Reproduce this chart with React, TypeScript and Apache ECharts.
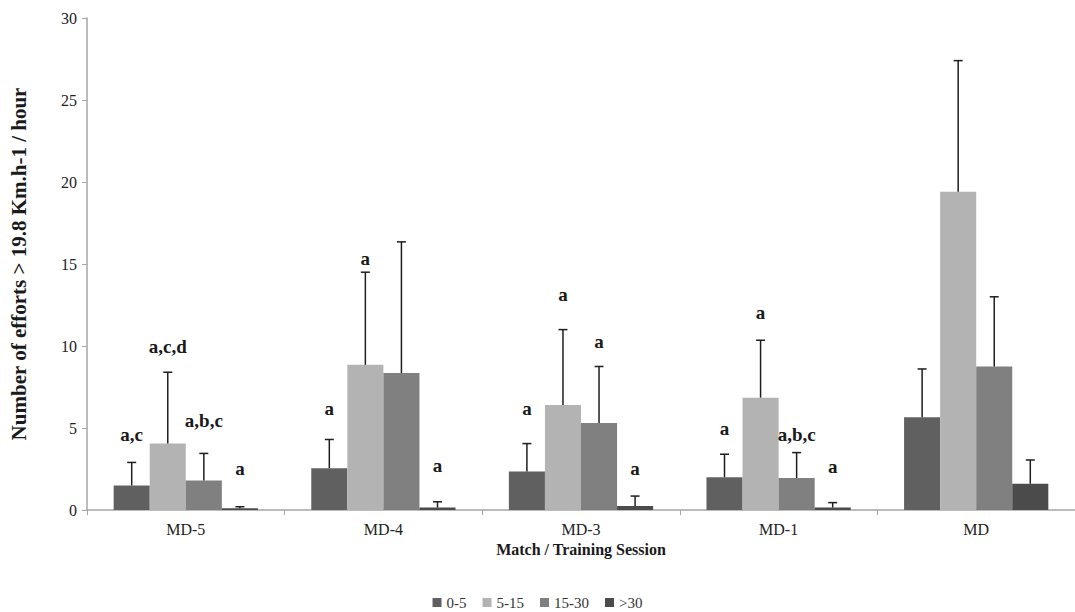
import React, { useEffect, useRef } from "react";
import * as echarts from "echarts";

const categories = ["MD-5", "MD-4", "MD-3", "MD-1", "MD"];
const seriesNames = ["0-5", "5-15", "15-30", ">30"];
const colors = ["#606060", "#b3b3b3", "#808080", "#4b4b4b"];

// means
const mean0_5 = [1.5, 2.55, 2.35, 2.0, 5.65];
const mean5_15 = [4.05, 8.85, 6.4, 6.85, 19.4];
const mean15_30 = [1.8, 8.35, 5.3, 1.95, 8.75];
const mean30 = [0.1, 0.15, 0.25, 0.15, 1.6];

// standard deviations (upper error bar)
const sd0_5 = [1.4, 1.75, 1.7, 1.4, 2.95];
const sd5_15 = [4.35, 5.65, 4.6, 3.5, 8.0];
const sd15_30 = [1.65, 8.0, 3.45, 1.55, 4.25];
const sd30 = [0.1, 0.35, 0.6, 0.3, 1.45];

// significance letters and their heights (axis units)
const let0_5 = ["a,c", "a", "a", "a", ""];
const let5_15 = ["a,c,d", "a", "a", "a", ""];
const let15_30 = ["a,b,c", "", "a", "a,b,c", ""];
const let30 = ["a", "a", "a", "a", ""];
const lh0_5 = [4.63, 6.2, 6.2, 4.94, 0];
const lh5_15 = [10.0, 15.35, 13.17, 12.07, 0];
const lh15_30 = [5.43, 0, 10.3, 4.63, 0];
const lh30 = [2.56, 2.74, 2.56, 2.68, 0];

const means = [mean0_5, mean5_15, mean15_30, mean30];
const sds = [sd0_5, sd5_15, sd15_30, sd30];
const letters = [let0_5, let5_15, let15_30, let30];
const letterHeights = [lh0_5, lh5_15, lh15_30, lh30];

const yTicks = [0, 5, 10, 15, 20, 25, 30];

const FONT = "'Liberation Serif', 'Times New Roman', 'DejaVu Serif', serif";
const CAT_GAP = 0.27;

export default function App() {
  const ref = useRef<HTMLDivElement>(null);

  useEffect(() => {
    if (!ref.current) return;
    const chart = echarts.init(ref.current, undefined, { renderer: "svg" });

    const barSeries = seriesNames.map((name, k) => ({
      name,
      type: "bar",
      data: means[k],
      barGap: "0%",
      barCategoryGap: CAT_GAP * 100 + "%",
      itemStyle: { color: colors[k] },
      z: 2,
    }));

    const errSeries = seriesNames.map((name, k) => ({
      name: name + " err",
      type: "custom",
      z: 5,
      silent: true,
      data: categories.map((_, i) => [i, means[k][i], means[k][i] + sds[k][i], letterHeights[k][i], i]),
      renderItem: (params: any, api: any) => {
        const i = api.value(0);
        const cx0 = api.coord([i, 0])[0];
        const bw = (api.size([1, 0])[0] * (1 - CAT_GAP)) / 4;
        const cx = cx0 + (k - 1.5) * bw;
        const yMean = api.coord([i, api.value(1)])[1];
        const yTop = api.coord([i, api.value(2)])[1];
        const children: any[] = [
          {
            type: "line",
            shape: { x1: cx, y1: yMean, x2: cx, y2: yTop },
            style: { stroke: "#1e1e1e", lineWidth: 1.5 },
          },
          {
            type: "line",
            shape: { x1: cx - 4.5, y1: yTop, x2: cx + 4.5, y2: yTop },
            style: { stroke: "#1e1e1e", lineWidth: 1.5 },
          },
        ];
        const txt = letters[k][api.value(4)];
        if (txt) {
          const ly = api.coord([i, api.value(3)])[1];
          children.push({
            type: "text",
            style: {
              text: txt,
              x: cx,
              y: ly,
              align: "center",
              verticalAlign: "middle",
              fontFamily: FONT,
              fontWeight: "bold",
              fontSize: 19,
              fill: "#1a1a1a",
            },
          });
        }
        return { type: "group", children };
      },
    }));

    chart.setOption({
      animation: false,
      backgroundColor: "#ffffff",
      grid: { left: 86, right: -9, top: 18, bottom: 102, containLabel: false },
      legend: {
        data: seriesNames,
        bottom: 0,
        padding: [2, 5, 2, 5],
        left: "center",
        itemWidth: 9,
        itemHeight: 9,
        itemGap: 16,
        icon: "rect",
        textStyle: { fontFamily: FONT, fontSize: 15, color: "#333" },
      },
      xAxis: {
        type: "category",
        data: categories,
        name: "Match / Training Session",
        nameLocation: "middle",
        nameGap: 31,
        nameTextStyle: { fontFamily: FONT, fontWeight: "bold", fontSize: 16, color: "#1a1a1a" },
        axisLine: { show: true, lineStyle: { color: "#a6a6a6", width: 1.5 } },
        axisTick: { show: true, alignWithLabel: false, length: 5, lineStyle: { color: "#a6a6a6" } },
        axisLabel: { fontFamily: FONT, fontSize: 16, color: "#222", margin: 11 },
      },
      yAxis: {
        type: "value",
        min: 0,
        max: 30,
        interval: 5,
        name: "Number of efforts > 19.8 Km.h-1 / hour",
        nameLocation: "middle",
        nameGap: 58,
        nameRotate: 90,
        nameTextStyle: { fontFamily: FONT, fontWeight: "bold", fontSize: 21, color: "#1a1a1a" },
        axisLine: { show: true, lineStyle: { color: "#a6a6a6", width: 1.5 } },
        axisTick: { show: true, length: 5, lineStyle: { color: "#a6a6a6" } },
        splitLine: { show: false },
        axisLabel: {
          fontFamily: FONT,
          fontSize: 16,
          color: "#222",
          margin: 10,
          formatter: (v: number) => (yTicks.includes(v) ? String(v) : ""),
        },
      },
      series: [...barSeries, ...errSeries],
    });

    return () => chart.dispose();
  }, []);

  return (
    <div
      ref={ref}
      style={{ position: "absolute", left: 0, top: 0, width: 1075, height: 612, background: "#fff" }}
    />
  );
}
